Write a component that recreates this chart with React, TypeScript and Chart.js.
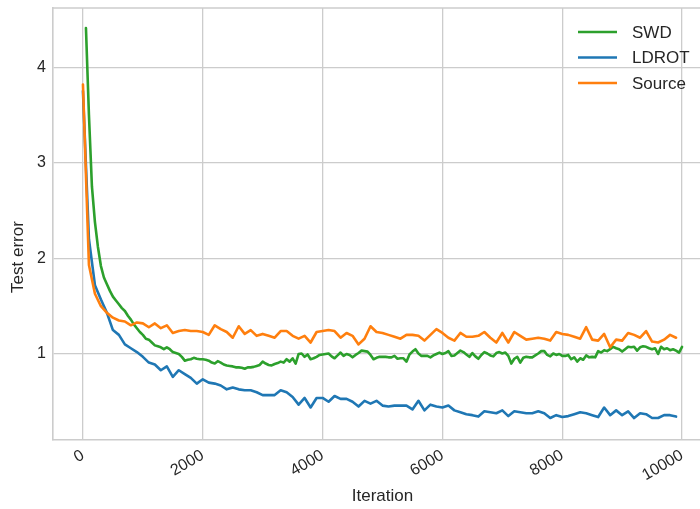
import React, { useEffect, useRef } from "react";
import { Chart, registerables } from "chart.js";

Chart.register(...registerables);

// ---- data ----
const sourceIterations: number[] = Array.from({ length: 100 }, (_, i) => i * 100);
const ldrotIterations: number[] = Array.from({ length: 100 }, (_, i) => i * 100);
const swdIterations: number[] = Array.from({ length: 200 }, (_, i) => (i + 1) * 50);

const swdValues: number[] = [
  4.41, 3.5, 2.75, 2.38, 2.12, 1.92, 1.8, 1.73, 1.66, 1.6,
  1.56, 1.52, 1.48, 1.45, 1.4, 1.36, 1.31, 1.27, 1.23, 1.2,
  1.16, 1.15, 1.12, 1.09, 1.08, 1.07, 1.05, 1.07, 1.05, 1.02,
  1.01, 1.0, 0.97, 0.93, 0.94, 0.945, 0.96, 0.95, 0.945, 0.945,
  0.94, 0.93, 0.91, 0.9, 0.925, 0.91, 0.89, 0.88, 0.875, 0.87,
  0.86, 0.86, 0.855, 0.845, 0.86, 0.86, 0.865, 0.875, 0.885, 0.92,
  0.9, 0.885, 0.88, 0.895, 0.905, 0.92, 0.91, 0.945, 0.92, 0.955,
  0.9, 1.0, 1.005, 0.97, 0.995, 0.945, 0.955, 0.97, 0.99, 0.995,
  1.0, 1.005, 0.975, 0.955, 0.985, 1.015, 0.98, 1.0, 0.99, 0.965,
  0.99, 1.01, 1.035, 1.03, 1.025, 0.99, 0.945, 0.96, 0.97, 0.97,
  0.97, 0.965, 0.965, 0.98, 0.95, 0.955, 0.955, 0.92, 0.995, 1.025,
  1.05, 1.005, 0.98, 0.98, 0.98, 0.965, 0.985, 1.0, 1.015, 1.0,
  1.01, 1.03, 0.98, 0.985, 1.01, 1.035, 1.02, 0.995, 0.97, 1.01,
  0.975, 0.95, 0.99, 1.02, 1.005, 0.985, 0.975, 1.01, 1.02, 1.005,
  1.015, 0.98, 0.9, 0.95, 0.97, 0.91, 0.96, 0.97, 0.965, 0.965,
  0.985, 1.005, 1.03, 1.03, 0.99, 0.975, 1.005, 0.99, 1.0, 0.98,
  0.98, 0.99, 0.945, 0.965, 0.92, 0.955, 0.94, 0.985, 0.965, 0.97,
  0.965, 1.03, 1.015, 1.04, 1.03, 1.05, 1.075, 1.06, 1.05, 1.025,
  1.05, 1.075, 1.07, 1.075, 1.035, 1.07, 1.08, 1.075, 1.06, 1.05,
  1.06, 1.0, 1.075, 1.05, 1.06, 1.04, 1.05, 1.035, 1.015, 1.075,
];

const ldrotValues: number[] = [
  3.75, 2.2, 1.72, 1.57, 1.43, 1.25, 1.2, 1.1, 1.06, 1.02,
  0.97, 0.91, 0.89, 0.83, 0.87, 0.76, 0.83, 0.79, 0.75, 0.69,
  0.735, 0.7, 0.69, 0.67, 0.63, 0.65, 0.63, 0.62, 0.62, 0.6,
  0.57, 0.57, 0.57, 0.62, 0.6, 0.55, 0.47, 0.54, 0.44, 0.54,
  0.54, 0.5, 0.56, 0.53, 0.53, 0.5, 0.45, 0.51, 0.48, 0.51,
  0.46, 0.45, 0.46, 0.46, 0.46, 0.42, 0.51, 0.41, 0.47, 0.45,
  0.44, 0.46, 0.41, 0.39, 0.37, 0.36, 0.345, 0.4, 0.39, 0.38,
  0.41, 0.35, 0.4, 0.39, 0.38, 0.38, 0.4, 0.38, 0.33, 0.36,
  0.34, 0.35, 0.37, 0.39, 0.38, 0.36, 0.34, 0.44, 0.36, 0.41,
  0.36, 0.4, 0.33, 0.38, 0.37, 0.33, 0.33, 0.36, 0.36, 0.345,
];

const sourceValues: number[] = [
  3.82, 1.93, 1.63, 1.5, 1.43, 1.38, 1.35, 1.34, 1.3, 1.33,
  1.32, 1.28, 1.32, 1.27, 1.3, 1.22, 1.24, 1.25, 1.24, 1.24,
  1.23, 1.2, 1.3, 1.26, 1.23, 1.17, 1.29, 1.21, 1.25, 1.19,
  1.21, 1.19, 1.17, 1.24, 1.24, 1.19, 1.16, 1.19, 1.12, 1.23,
  1.24, 1.25, 1.24, 1.17, 1.22, 1.19, 1.1, 1.16, 1.29, 1.23,
  1.22, 1.2, 1.18, 1.16, 1.2, 1.2, 1.19, 1.14, 1.2, 1.26,
  1.22, 1.17, 1.14, 1.22, 1.18, 1.18, 1.19, 1.23, 1.17, 1.12,
  1.22, 1.12, 1.23, 1.19, 1.15, 1.16, 1.17, 1.16, 1.14, 1.23,
  1.21, 1.2, 1.18, 1.16, 1.28, 1.15, 1.14, 1.21, 1.07, 1.15,
  1.14, 1.22, 1.2, 1.17, 1.24, 1.13, 1.12, 1.15, 1.2, 1.17,
];

const xTicks: number[] = [0, 2000, 4000, 6000, 8000, 10000];
const yTicks: number[] = [1, 2, 3, 4];
const seriesLabels: string[] = ["SWD", "LDROT", "Source"];
const seriesColors: string[] = ["#2ca02c", "#1f77b4", "#ff7f0e"];
const xTitle = "Iteration";
const yTitle = "Test error";

const FONT = "'Liberation Sans', Arial, sans-serif";
const TEXT = "#262626";
const GRID = "#cccccc";

const toPoints = (xs: number[], ys: number[]) => ys.map((y, i) => ({ x: xs[i], y }));

const framePlugin = {
  id: "frameAndLegend",
  afterDraw(chart: any) {
    const { ctx, chartArea } = chart;
    ctx.save();
    // top spine
    ctx.strokeStyle = GRID;
    ctx.lineWidth = 1.6;
    ctx.beginPath();
    ctx.moveTo(chartArea.left, chartArea.top);
    ctx.lineTo(chartArea.right, chartArea.top);
    ctx.stroke();
    // y axis title
    ctx.save();
    ctx.translate(18, 257);
    ctx.rotate(-Math.PI / 2);
    ctx.font = `17px ${FONT}`;
    ctx.fillStyle = TEXT;
    ctx.textAlign = "center";
    ctx.textBaseline = "middle";
    ctx.fillText(yTitle, 0, 0);
    ctx.restore();
    // legend
    const x0 = 578;
    const x1 = 617;
    const y0 = 32;
    const dy = 25.5;
    ctx.font = `17px ${FONT}`;
    ctx.textBaseline = "middle";
    ctx.textAlign = "left";
    seriesLabels.forEach((label, i) => {
      const y = y0 + dy * i;
      ctx.strokeStyle = seriesColors[i];
      ctx.lineWidth = 2.6;
      ctx.beginPath();
      ctx.moveTo(x0, y);
      ctx.lineTo(x1, y);
      ctx.stroke();
      ctx.fillStyle = TEXT;
      ctx.fillText(label, 632, y + 1);
    });
    ctx.restore();
  },
};

export default function App() {
  const canvasRef = useRef<HTMLCanvasElement | null>(null);

  useEffect(() => {
    const canvas = canvasRef.current;
    if (!canvas) return;
    const chart = new Chart(canvas, {
      type: "line",
      data: {
        datasets: [
          {
            label: seriesLabels[0],
            data: toPoints(swdIterations, swdValues),
            borderColor: seriesColors[0],
            order: 2,
          },
          {
            label: seriesLabels[1],
            data: toPoints(ldrotIterations, ldrotValues),
            borderColor: seriesColors[1],
            order: 1,
          },
          {
            label: seriesLabels[2],
            data: toPoints(sourceIterations, sourceValues),
            borderColor: seriesColors[2],
            order: 0,
          },
        ].map((d) => ({
          ...d,
          borderWidth: 2.6,
          pointRadius: 0,
          tension: 0,
          fill: false,
          borderJoinStyle: "round" as const,
          borderCapStyle: "round" as const,
        })),
      },
      options: {
        responsive: false,
        animation: false,
        devicePixelRatio: 1,
        layout: { padding: { top: 8, left: 0, right: 0, bottom: 0 } },
        plugins: {
          legend: { display: false },
          tooltip: { enabled: false },
        },
        scales: {
          x: {
            type: "linear",
            min: -500,
            max: 10500,
            afterBuildTicks: (scale: any) => {
              scale.ticks = xTicks.map((v) => ({ value: v }));
            },
            afterFit: (scale: any) => {
              scale.height = 69;
              scale.paddingLeft = 0;
              scale.paddingRight = 0;
            },
            ticks: {
              minRotation: 30,
              maxRotation: 30,
              padding: 6,
              color: TEXT,
              font: { family: FONT, size: 16 },
              callback: (v: any) => String(v),
            },
            grid: { color: GRID, lineWidth: 1.3, drawTicks: false },
            border: { color: GRID, width: 1.6 },
            title: {
              display: true,
              text: xTitle,
              color: TEXT,
              font: { family: FONT, size: 17 },
              padding: { top: 0, bottom: 2 },
            },
          },
          y: {
            type: "linear",
            min: 0.1,
            max: 4.62,
            afterBuildTicks: (scale: any) => {
              scale.ticks = yTicks.map((v) => ({ value: v }));
            },
            afterFit: (scale: any) => {
              scale.width = 53;
              scale.paddingTop = 0;
              scale.paddingBottom = 0;
            },
            ticks: {
              padding: 7,
              color: TEXT,
              font: { family: FONT, size: 16 },
              callback: (v: any) => String(v),
            },
            grid: { color: GRID, lineWidth: 1.3, drawTicks: false },
            border: { color: GRID, width: 1.6 },
            title: { display: false },
          },
        },
      },
      plugins: [framePlugin],
    });
    return () => chart.destroy();
  }, []);

  return (
    <div
      style={{
        position: "fixed",
        left: 0,
        top: 0,
        width: 700,
        height: 509,
        overflow: "hidden",
        background: "#ffffff",
      }}
    >
      <canvas ref={canvasRef} width={712} height={509} style={{ display: "block" }} />
    </div>
  );
}
